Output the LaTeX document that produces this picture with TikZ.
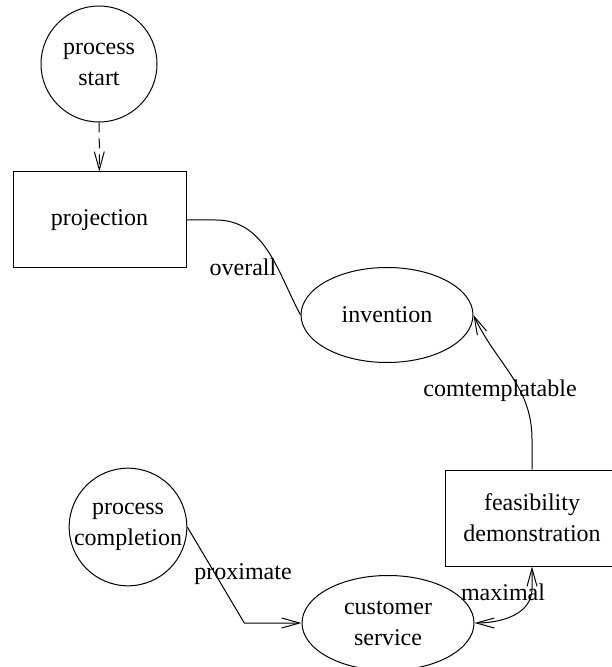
\documentclass[tikz,border=0pt]{standalone}
\usepackage{fontspec}
\setmainfont{LiberationSerif}[Extension=.ttf, UprightFont=*-Regular, BoldFont=*-Bold, ItalicFont=*-Italic, BoldItalicFont=*-BoldItalic]
\usetikzlibrary{arrows.meta, shapes.geometric, positioning}

\begin{document}
\begin{tikzpicture}[x=0.5pt,y=-0.5pt,align=center,font=\fontsize{12}{15.5}\selectfont]
\tikzstyle{terminal}=[circle,draw=black,line width=0.5pt,minimum size=58pt,inner sep=0pt]
\tikzstyle{activity}=[rectangle,draw=black,line width=0.5pt,minimum height=48pt]
\tikzstyle{goal}=[ellipse,draw=black,line width=0.5pt,minimum width=86pt,minimum height=47.5pt,inner sep=0pt]
\tikzstyle{plain}=[line width=0.5pt]
\tikzstyle{flow}=[plain,-{Straight Barb[length=9pt,width=5pt]}]
\tikzstyle{both}=[plain,{Straight Barb[length=9pt,width=5pt]}-{Straight Barb[length=9pt,width=5pt]}]

\useasboundingbox (0,0) rectangle (611,667);

\node[terminal] (start) at (99,64) {process\\start};
\node[activity, minimum width=86.5pt] (proj) at (99.5,220) {projection};
\node[goal] (inv) at (387,315) {invention};
\node[activity, minimum width=87pt] (feas) at (532,518) {feasibility\\demonstration};
\node[terminal] (compl) at (128,527) {process\\completion};
\node[goal] (cust) at (388,623) {customer\\service};

\node (overall_lbl) at (243,267) {overall};
\node (contempl_lbl) at (500,391) {comtemplatable};
\node (proxim_lbl) at (243,574) {proximate};
\node (maximal_lbl) at (503,592) {maximal};

\draw[flow, dash pattern=on 5pt off 3pt] (start) -- (proj);
\draw[plain] (proj.east) -- ++(29,0) to[out=0, in=118] (inv.west);
\draw[flow] (feas.north) -- ++(0,-30) to[out=90, in=-65] (inv.east);
\draw[flow] (compl.east) -- ++(57,96) -- (cust.west);
\draw[both] (feas.south) -- ++(0,22) to[out=-90, in=0] (cust.east);
\end{tikzpicture}
\end{document}
